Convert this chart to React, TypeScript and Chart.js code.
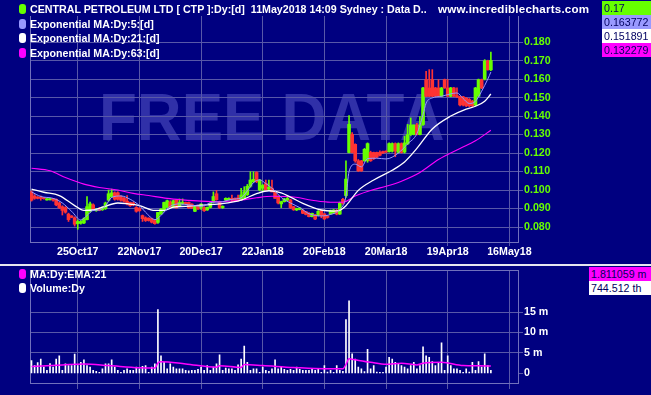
import React, { useEffect, useRef } from "react";
import { Chart, registerables } from "chart.js";

Chart.register(...registerables);

// ---------------- data ----------------
const opens = [
  0.0990, 0.0968, 0.0962, 0.0960, 0.0958, 0.0946, 0.0948, 0.0953, 0.0950, 0.0930,
  0.0910, 0.0905, 0.0870, 0.0860, 0.0850, 0.0818, 0.0820, 0.0822, 0.0840, 0.0885,
  0.0920, 0.0888, 0.0900, 0.0893, 0.0900, 0.0945, 0.0965, 0.0985, 0.0985, 0.0965,
  0.0955, 0.0940, 0.0933, 0.0930, 0.0906, 0.0900, 0.0862, 0.0850, 0.0848, 0.0845,
  0.0835, 0.0825, 0.0870, 0.0890, 0.0906, 0.0935, 0.0906, 0.0945, 0.0915, 0.0925,
  0.0933, 0.0933, 0.0924, 0.0885, 0.0915, 0.0905, 0.0905, 0.0892, 0.0906, 0.0935,
  0.0980, 0.0935, 0.0905, 0.0946, 0.0948, 0.0955, 0.0955, 0.0958, 0.0946, 0.0960,
  0.0975, 0.1020, 0.1045, 0.1095, 0.1000, 0.1010, 0.1035, 0.1005, 0.1010, 0.0990,
  0.0965, 0.0925, 0.0937, 0.0945, 0.0946, 0.0910, 0.0892, 0.0895, 0.0890, 0.0883,
  0.0874, 0.0856, 0.0865, 0.0865, 0.0889, 0.0871, 0.0860, 0.0870, 0.0875, 0.0889,
  0.0870, 0.0950, 0.0970, 0.1203, 0.1301, 0.1247, 0.1158, 0.1158, 0.1158, 0.1158,
  0.1203, 0.1203, 0.1203, 0.1203, 0.1208, 0.1210, 0.1208, 0.1210, 0.1251, 0.1203,
  0.1251, 0.1205, 0.1250, 0.1300, 0.1300, 0.1352, 0.1300, 0.1354, 0.1597, 0.1552,
  0.1597, 0.1552, 0.1552, 0.1507, 0.1597, 0.1552, 0.1507, 0.1552, 0.1507, 0.1505,
  0.1504, 0.1497, 0.1490, 0.1480, 0.1460, 0.1507, 0.1597, 0.1600, 0.1698, 0.1650,
];
const highs = [
  0.0995, 0.0975, 0.0965, 0.0968, 0.0960, 0.0955, 0.0955, 0.0955, 0.0952, 0.0935,
  0.0915, 0.0910, 0.0875, 0.0862, 0.0855, 0.0838, 0.0835, 0.0850, 0.0965, 0.0935,
  0.0925, 0.0900, 0.0905, 0.0910, 0.0935, 0.1000, 0.1005, 0.0990, 0.0990, 0.0970,
  0.0960, 0.0970, 0.0935, 0.0935, 0.0910, 0.0905, 0.0865, 0.0855, 0.0850, 0.0848,
  0.0840, 0.0880, 0.0900, 0.0935, 0.0945, 0.0942, 0.0945, 0.0948, 0.0952, 0.0952,
  0.0935, 0.0935, 0.0926, 0.0912, 0.0918, 0.0925, 0.0910, 0.0908, 0.0930, 0.0990,
  0.0998, 0.0940, 0.0915, 0.0958, 0.0958, 0.0973, 0.0958, 0.0973, 0.1009, 0.1018,
  0.1030, 0.1099, 0.1099, 0.1099, 0.1058, 0.1030, 0.1054, 0.1054, 0.1054, 0.0995,
  0.0970, 0.0940, 0.0955, 0.0964, 0.0950, 0.0912, 0.0902, 0.0905, 0.0895, 0.0885,
  0.0878, 0.0875, 0.0868, 0.0889, 0.0892, 0.0873, 0.0862, 0.0892, 0.0895, 0.0895,
  0.0935, 0.0955, 0.1158, 0.1403, 0.1310, 0.1250, 0.1165, 0.1160, 0.1225, 0.1255,
  0.1210, 0.1205, 0.1205, 0.1212, 0.1210, 0.1212, 0.1255, 0.1255, 0.1255, 0.1255,
  0.1255, 0.1291, 0.1355, 0.1390, 0.1352, 0.1360, 0.1397, 0.1555, 0.1642, 0.1651,
  0.1651, 0.1555, 0.1597, 0.1555, 0.1600, 0.1597, 0.1555, 0.1555, 0.1552, 0.1507,
  0.1506, 0.1500, 0.1495, 0.1485, 0.1555, 0.1600, 0.1600, 0.1705, 0.1702, 0.1746,
];
const lows = [
  0.0940, 0.0950, 0.0952, 0.0945, 0.0950, 0.0945, 0.0945, 0.0940, 0.0915, 0.0900,
  0.0865, 0.0875, 0.0830, 0.0850, 0.0805, 0.0788, 0.0815, 0.0818, 0.0838, 0.0880,
  0.0890, 0.0885, 0.0888, 0.0890, 0.0895, 0.0940, 0.0960, 0.0945, 0.0945, 0.0940,
  0.0935, 0.0920, 0.0912, 0.0915, 0.0880, 0.0885, 0.0830, 0.0830, 0.0832, 0.0822,
  0.0815, 0.0820, 0.0868, 0.0885, 0.0905, 0.0905, 0.0905, 0.0902, 0.0913, 0.0922,
  0.0922, 0.0900, 0.0900, 0.0883, 0.0895, 0.0895, 0.0885, 0.0890, 0.0903, 0.0930,
  0.0945, 0.0900, 0.0900, 0.0944, 0.0945, 0.0937, 0.0940, 0.0940, 0.0944, 0.0955,
  0.0970, 0.1015, 0.1040, 0.1040, 0.0995, 0.0995, 0.1000, 0.1000, 0.0990, 0.0955,
  0.0925, 0.0905, 0.0935, 0.0940, 0.0900, 0.0890, 0.0889, 0.0893, 0.0872, 0.0865,
  0.0855, 0.0854, 0.0840, 0.0860, 0.0850, 0.0840, 0.0848, 0.0868, 0.0873, 0.0866,
  0.0868, 0.0922, 0.0960, 0.1200, 0.1200, 0.1150, 0.1100, 0.1100, 0.1155, 0.1150,
  0.1155, 0.1165, 0.1175, 0.1185, 0.1198, 0.1203, 0.1205, 0.1205, 0.1180, 0.1200,
  0.1200, 0.1200, 0.1245, 0.1295, 0.1298, 0.1298, 0.1298, 0.1350, 0.1505, 0.1505,
  0.1505, 0.1505, 0.1505, 0.1505, 0.1550, 0.1505, 0.1505, 0.1505, 0.1500, 0.1455,
  0.1455, 0.1451, 0.1450, 0.1450, 0.1455, 0.1505, 0.1548, 0.1595, 0.1648, 0.1645,
];
const closes = [
  0.0945, 0.0955, 0.0955, 0.0955, 0.0953, 0.0952, 0.0953, 0.0945, 0.0920, 0.0905,
  0.0890, 0.0880, 0.0840, 0.0852, 0.0815, 0.0830, 0.0830, 0.0845, 0.0910, 0.0925,
  0.0895, 0.0895, 0.0890, 0.0905, 0.0930, 0.0980, 0.0985, 0.0950, 0.0950, 0.0945,
  0.0940, 0.0925, 0.0915, 0.0920, 0.0885, 0.0888, 0.0845, 0.0835, 0.0835, 0.0826,
  0.0818, 0.0879, 0.0897, 0.0933, 0.0942, 0.0907, 0.0942, 0.0903, 0.0933, 0.0933,
  0.0925, 0.0903, 0.0903, 0.0910, 0.0897, 0.0924, 0.0888, 0.0906, 0.0928, 0.0965,
  0.0948, 0.0905, 0.0912, 0.0955, 0.0955, 0.0946, 0.0942, 0.0942, 0.0973, 0.0991,
  0.1020, 0.1054, 0.1058, 0.1045, 0.1054, 0.1025, 0.1000, 0.1015, 0.0990, 0.0955,
  0.0930, 0.0937, 0.0950, 0.0955, 0.0905, 0.0893, 0.0900, 0.0903, 0.0874, 0.0868,
  0.0856, 0.0874, 0.0843, 0.0885, 0.0862, 0.0844, 0.0852, 0.0889, 0.0892, 0.0870,
  0.0930, 0.0928, 0.1059, 0.1355, 0.1203, 0.1158, 0.1104, 0.1104, 0.1220, 0.1251,
  0.1158, 0.1170, 0.1178, 0.1188, 0.1200, 0.1205, 0.1251, 0.1251, 0.1210, 0.1251,
  0.1203, 0.1255, 0.1300, 0.1352, 0.1352, 0.1300, 0.1352, 0.1552, 0.1507, 0.1507,
  0.1507, 0.1507, 0.1507, 0.1552, 0.1552, 0.1507, 0.1552, 0.1507, 0.1505, 0.1460,
  0.1460, 0.1455, 0.1455, 0.1455, 0.1552, 0.1597, 0.1552, 0.1698, 0.1650, 0.1700,
];
// volume, millions of shares
const volumes = [
  3.1, 1.9, 2.6, 3.5, 1.5, 0.7, 2.4, 1.5, 3.5, 4.3,
  0.7, 2.3, 1.9, 1.9, 4.7, 1.9, 2.7, 3.3, 1.9, 1.5,
  0.7, 0.5, 0.1, 1.1, 2.3, 2.3, 3.3, 1.5, 0.7, 0.1,
  0.7, 1.1, 0.7, 0.7, 1.5, 1.1, 1.7, 1.9, 0.2, 1.5,
  2.3, 15.6, 4.3, 2.7, 1.1, 2.3, 1.5, 1.1, 1.1, 1.1,
  0.7, 0.6, 0.7, 0.7, 1.0, 1.5, 0.7, 1.9, 0.7, 1.5,
  2.3, 4.5, 0.7, 1.3, 1.1, 1.1, 0.7, 2.1, 3.5, 6.7,
  2.7, 0.7, 1.1, 1.1, 0.1, 1.5, 0.7, 0.5, 1.1, 3.3,
  1.1, 1.5, 1.0, 0.7, 1.0, 0.7, 1.5, 1.0, 0.7, 0.7,
  0.7, 1.0, 0.7, 1.0, 0.1, 1.9, 0.3, 0.7, 0.2, 1.9,
  0.7, 0.5, 13.2, 17.8, 4.8, 3.5, 1.5, 1.1, 0.4, 5.9,
  1.1, 1.9, 0.3, 0.2, 0.05, 1.5, 3.9, 3.5, 2.7, 2.3,
  1.9, 1.5, 1.1, 1.9, 2.7, 1.1, 1.9, 6.5, 4.3, 3.9,
  2.9, 1.9, 2.7, 7.5, 0.7, 4.3, 1.9, 1.1, 1.1, 0.7,
  0.05, 1.1, 0.3, 2.7, 0.7, 2.9, 1.5, 4.8, 1.9, 0.745,
];

const ema5Days = [0, 3, 7, 10, 13, 16, 18, 20, 22, 24, 26, 29, 32, 35, 37, 40, 43, 45, 48, 51, 55, 59, 61, 65, 68, 70, 72, 74, 76, 78, 81, 84, 87, 90, 94, 97, 100, 102, 103, 105, 107, 109, 112, 115, 119, 122, 125, 127, 128, 130, 133, 136, 138, 140, 142, 144, 146, 148, 149];
const ema5Values = [0.0990, 0.0965, 0.0955, 0.0930, 0.0885, 0.0838, 0.0862, 0.0890, 0.0892, 0.0915, 0.0960, 0.0968, 0.0950, 0.0916, 0.0880, 0.0840, 0.0880, 0.0912, 0.0925, 0.0920, 0.0912, 0.0935, 0.0935, 0.0950, 0.0958, 0.0995, 0.1040, 0.1055, 0.1035, 0.1010, 0.0960, 0.0930, 0.0905, 0.0872, 0.0860, 0.0868, 0.0895, 0.0965, 0.1100, 0.1140, 0.1125, 0.1170, 0.1172, 0.1168, 0.1200, 0.1250, 0.1305, 0.1408, 0.1470, 0.1498, 0.1507, 0.1520, 0.1525, 0.1495, 0.1468, 0.1480, 0.1534, 0.1600, 0.1638];

const ema21Days = [0, 4, 9, 14, 17, 20, 23, 28, 31, 35, 40, 43, 46, 50, 55, 59, 61, 68, 73, 77, 81, 84, 88, 94, 98, 100, 102, 106, 111, 117, 121, 125, 130, 136, 141, 144, 147, 149];
const ema21Values = [0.1005, 0.0988, 0.0970, 0.0916, 0.0890, 0.0892, 0.0907, 0.0930, 0.0926, 0.0916, 0.0890, 0.0890, 0.0907, 0.0912, 0.0918, 0.0922, 0.0925, 0.0946, 0.0980, 0.0996, 0.0985, 0.0962, 0.0928, 0.0892, 0.0886, 0.0890, 0.0915, 0.0998, 0.1054, 0.1107, 0.1152, 0.1225, 0.1330, 0.1400, 0.1438, 0.1453, 0.1480, 0.1519];

const ema63Days = [0, 6, 11, 17, 22, 28, 33, 38, 44, 49, 55, 61, 68, 73, 78, 85, 91, 97, 101, 105, 111, 115, 120, 126, 132, 139, 144, 149];
const ema63Values = [0.1118, 0.1104, 0.1068, 0.1032, 0.1014, 0.1000, 0.0982, 0.0970, 0.0955, 0.0947, 0.0940, 0.0937, 0.0946, 0.0958, 0.0966, 0.0962, 0.0945, 0.0934, 0.0934, 0.0968, 0.1003, 0.1020, 0.1048, 0.1095, 0.1165, 0.1225, 0.1266, 0.1323];

const volEmaDays = [0, 10, 17, 25, 35, 40, 41, 42, 50, 60, 61, 68, 69, 75, 85, 95, 100, 101, 102, 103, 105, 110, 115, 120, 125, 127, 133, 140, 145, 149];
const volEmaValues = [1.67, 2.06, 2.30, 1.90, 1.35, 1.27, 2.55, 2.86, 2.30, 1.50, 1.85, 1.43, 2.14, 1.90, 1.43, 1.11, 1.11, 1.10, 2.20, 3.55, 3.30, 2.70, 2.20, 2.46, 2.06, 2.46, 2.70, 1.90, 1.83, 1.81];

const tickDays = [15, 35, 55, 75, 95, 115, 135, 155];
const tickLabels = ["25Oct17", "22Nov17", "20Dec17", "22Jan18", "20Feb18", "20Mar18", "19Apr18", "16May18"];
const priceTicks = [0.08, 0.09, 0.1, 0.11, 0.12, 0.13, 0.14, 0.15, 0.16, 0.17, 0.18];
const volumeTicks = [0, 5, 10, 15];

const titleText = "CENTRAL PETROLEUM LTD [ CTP ]:Dy:[d]  11May2018 14:09 Sydney : Data D..";
const siteText = "www.incrediblecharts.com";
const priceLegend = ["", "Exponential MA:Dy:5:[d]", "Exponential MA:Dy:21:[d]", "Exponential MA:Dy:63:[d]"];
const priceLast = ["0.17", "0.163772", "0.151891", "0.132279"];
const volumeLegend = ["MA:Dy:EMA:21", "Volume:Dy"];
const volumeLast = ["1.811059 m", "744.512 th"];

// ---------------- styles ----------------
const NAVY = "#000080";
const GRID = "#5858a8";
const AXIS = "#7070bc";
const GREEN = "#66ff00";
const RED = "#ff3333";
const LAVENDER = "#9999ff";
const MAGENTA = "#ff00ff";
const WHITE = "#ffffff";
const WATERMARK = "#3030a8";
const FONT = "'Liberation Sans', Arial, sans-serif";
const tickFont = { family: FONT, size: 10.67, weight: "bold" as const };

const X_MIN = -0.49;
const X_MAX = 157.8;

const legendColors = [GREEN, LAVENDER, WHITE, MAGENTA];
const volumeColors = [MAGENTA, WHITE];

function pts(days: number[], values: number[]) {
  return days.map((d, k) => ({ x: d, y: values[k] }));
}

const leftFrame = {
  id: "leftFrame",
  beforeDatasetsDraw(chart: any) {
    const { ctx, chartArea } = chart;
    ctx.save();
    ctx.strokeStyle = AXIS;
    ctx.lineWidth = 1;
    ctx.beginPath();
    ctx.moveTo(Math.round(chartArea.left) + 0.5, chartArea.top);
    ctx.lineTo(Math.round(chartArea.left) + 0.5, chartArea.bottom);
    ctx.stroke();
    ctx.restore();
  },
};

const topFrame = {
  id: "topFrame",
  beforeDatasetsDraw(chart: any) {
    const { ctx, chartArea } = chart;
    ctx.save();
    ctx.strokeStyle = AXIS;
    ctx.lineWidth = 1;
    ctx.beginPath();
    ctx.moveTo(chartArea.left, Math.round(chartArea.top) + 0.5);
    ctx.lineTo(chartArea.right, Math.round(chartArea.top) + 0.5);
    ctx.stroke();
    ctx.restore();
  },
};

function xAxis(showLabels: boolean, height: number, tickLength: number) {
  return {
    type: "linear" as const,
    min: X_MIN,
    max: X_MAX,
    offset: false,
    afterBuildTicks: (s: any) => {
      s.ticks = tickDays.map((v) => ({ value: v }));
    },
    afterFit: (s: any) => {
      s.height = height;
    },
    ticks: {
      display: showLabels,
      autoSkip: false,
      maxRotation: 0,
      minRotation: 0,
      padding: 0,
      color: WHITE,
      font: tickFont,
      callback: (v: any) => {
        const k = tickDays.indexOf(Number(v));
        return k >= 0 ? tickLabels[k] : "";
      },
    },
    grid: { color: GRID, tickColor: GRID, tickLength, offset: false, drawTicks: true },
    border: { color: AXIS, width: 1 },
  };
}

export default function App() {
  const topRef = useRef<HTMLCanvasElement>(null);
  const volRef = useRef<HTMLCanvasElement>(null);

  useEffect(() => {
    const days = closes.map((_, i) => i);
    const candleColors = days.map((i) => (closes[i] >= opens[i] ? GREEN : RED));

    const top = new Chart(topRef.current as HTMLCanvasElement, {
      type: "bar",
      data: {
        datasets: [
          {
            type: "line",
            label: "EMA5",
            data: pts(ema5Days, ema5Values),
            borderColor: LAVENDER,
            borderWidth: 1,
            pointRadius: 0,
            cubicInterpolationMode: "monotone",
            order: 0,
          } as any,
          {
            type: "line",
            label: "EMA21",
            data: pts(ema21Days, ema21Values),
            borderColor: WHITE,
            borderWidth: 1.3,
            pointRadius: 0,
            cubicInterpolationMode: "monotone",
            order: 0,
          } as any,
          {
            type: "line",
            label: "EMA63",
            data: pts(ema63Days, ema63Values),
            borderColor: MAGENTA,
            borderWidth: 1.1,
            pointRadius: 0,
            cubicInterpolationMode: "monotone",
            order: 0,
          } as any,
          {
            type: "bar",
            label: "body",
            data: days.map((i) => ({ x: i, y: [opens[i], closes[i]] })),
            backgroundColor: candleColors,
            borderWidth: 0,
            barThickness: 3,
            minBarLength: 1,
            grouped: false,
            order: 1,
          } as any,
          {
            type: "bar",
            label: "wick",
            data: days.map((i) => ({ x: i, y: [lows[i], highs[i]] })),
            backgroundColor: candleColors,
            borderWidth: 0,
            barThickness: 1,
            grouped: false,
            order: 2,
          } as any,
        ],
      },
      options: {
        animation: false,
        responsive: false,
        maintainAspectRatio: false,
        events: [],
        layout: { padding: { left: 30, top: 16, right: 0, bottom: 0 } },
        plugins: { legend: { display: false }, tooltip: { enabled: false } },
        scales: {
          x: xAxis(true, 21, 4),
          y: {
            type: "linear",
            position: "right",
            min: 0.0719,
            max: 0.1941,
            afterBuildTicks: (s: any) => {
              s.ticks = priceTicks.map((v) => ({ value: v }));
            },
            afterFit: (s: any) => {
              s.width = 133;
            },
            ticks: {
              padding: 1,
              color: GREEN,
              font: tickFont,
              callback: (v: any) => Number(v).toFixed(3),
            },
            grid: { color: GRID, tickColor: GRID, tickLength: 5 },
            border: { color: AXIS, width: 1 },
          },
        },
      } as any,
      plugins: [leftFrame],
    });

    const vol = new Chart(volRef.current as HTMLCanvasElement, {
      type: "bar",
      data: {
        datasets: [
          {
            type: "line",
            label: "MA:Dy:EMA:21",
            data: pts(volEmaDays, volEmaValues),
            borderColor: MAGENTA,
            borderWidth: 1.5,
            pointRadius: 0,
            cubicInterpolationMode: "monotone",
            order: 0,
          } as any,
          {
            type: "bar",
            label: "Volume",
            data: days.map((i) => ({ x: i, y: volumes[i] })),
            backgroundColor: WHITE,
            borderWidth: 0,
            barThickness: 1,
            minBarLength: 1,
            grouped: false,
            order: 1,
          } as any,
        ],
      },
      options: {
        animation: false,
        responsive: false,
        maintainAspectRatio: false,
        events: [],
        layout: { padding: { left: 30, top: 4, right: 0, bottom: 0 } },
        plugins: { legend: { display: false }, tooltip: { enabled: false } },
        scales: {
          x: xAxis(false, 12, 6),
          y: {
            type: "linear",
            position: "right",
            min: -2.38,
            max: 25.24,
            afterBuildTicks: (s: any) => {
              s.ticks = volumeTicks.map((v) => ({ value: v }));
            },
            afterFit: (s: any) => {
              s.width = 133;
            },
            ticks: {
              padding: 1,
              color: WHITE,
              font: tickFont,
              callback: (v: any) => (Number(v) === 0 ? "0" : `${v} m`),
            },
            grid: {
              color: (c: any) => (c.tick && c.tick.value === 0 ? "rgba(0,0,0,0)" : GRID),
              tickColor: GRID,
              tickLength: 5,
            },
            border: { color: AXIS, width: 1 },
          },
        },
      } as any,
      plugins: [leftFrame, topFrame],
    });

    return () => {
      top.destroy();
      vol.destroy();
    };
  }, []);

  const text: React.CSSProperties = {
    position: "absolute",
    color: WHITE,
    fontFamily: FONT,
    fontWeight: "bold",
    fontSize: "10.67px",
    lineHeight: "14px",
    whiteSpace: "pre",
    margin: 0,
  };
  const marker = (color: string, topPx: number): React.CSSProperties => ({
    position: "absolute",
    left: 19,
    top: topPx,
    width: 7,
    height: 10,
    borderRadius: 3,
    background: color,
  });
  const box = (color: string, left: number, topPx: number, width: number): React.CSSProperties => ({
    position: "absolute",
    left,
    top: topPx,
    width,
    height: 14,
    background: color,
    color: "#000060",
    fontFamily: FONT,
    fontSize: "10.67px",
    lineHeight: "14px",
    paddingLeft: 2,
    boxSizing: "border-box",
    whiteSpace: "pre",
  });

  return (
    <div
      style={{
        position: "fixed",
        left: 0,
        top: 0,
        width: 651,
        height: 395,
        background: NAVY,
        overflow: "hidden",
      }}
    >
      <div
        style={{
          position: "absolute",
          left: 99,
          top: 84,
          fontFamily: FONT,
          fontWeight: "bold",
          fontSize: "62px",
          lineHeight: "62px",
          color: WATERMARK,
          whiteSpace: "pre",
          transform: "scaleY(1.08)",
          transformOrigin: "left top",
        }}
      >
        FREE DATA
      </div>
      <canvas
        ref={topRef}
        width={651}
        height={263}
        style={{ position: "absolute", left: 0, top: 0, width: 651, height: 263 }}
      />
      <canvas
        ref={volRef}
        width={651}
        height={132}
        style={{ position: "absolute", left: 0, top: 263, width: 651, height: 132 }}
      />
      <div style={{ position: "absolute", left: 0, top: 264, width: 651, height: 2, background: "#e6e6f0" }} />

      {/* price legend */}
      <div style={marker(legendColors[0], 4)} />
      <div style={{ ...text, left: 30, top: 2 }}>{titleText}</div>
      <div style={{ ...text, left: 438, top: 2, fontSize: "11.6px", letterSpacing: "0.2px" }}>{siteText}</div>
      {priceLegend.slice(1).map((label, k) => (
        <React.Fragment key={label}>
          <div style={marker(legendColors[k + 1], 18.5 + k * 14.5)} />
          <div style={{ ...text, left: 30, top: 16.5 + k * 14.5 }}>{label}</div>
        </React.Fragment>
      ))}
      {priceLast.map((v, k) => (
        <div key={v} style={box(legendColors[k], 602, 1 + k * 14, 49)}>
          {v}
        </div>
      ))}

      {/* volume legend */}
      {volumeLegend.map((label, k) => (
        <React.Fragment key={label}>
          <div style={marker(volumeColors[k], 268.5 + k * 14.5)} />
          <div style={{ ...text, left: 30, top: 266.5 + k * 14.5 }}>{label}</div>
        </React.Fragment>
      ))}
      {volumeLast.map((v, k) => (
        <div key={v} style={box(volumeColors[k], 589, 267 + k * 14, 62)}>
          {v}
        </div>
      ))}
    </div>
  );
}
